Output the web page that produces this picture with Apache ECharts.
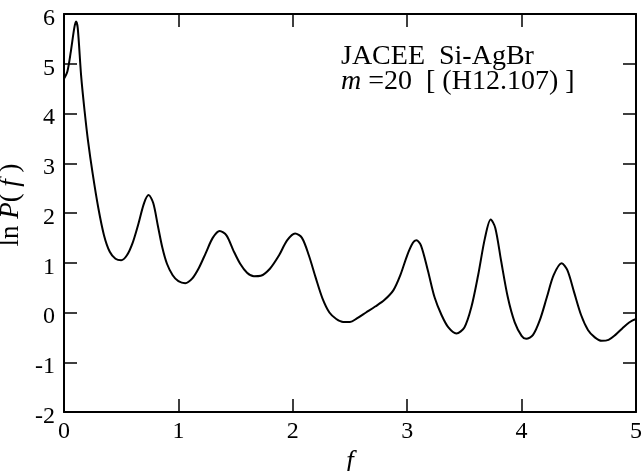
<!DOCTYPE html>
<html>
<head>
<meta charset="utf-8">
<script src="https://cdn.jsdelivr.net/npm/echarts@6/dist/echarts.min.js"></script>
<style>
html,body{margin:0;padding:0;background:#fff;}
#c{width:642px;height:471px;}
</style>
</head>
<body>
<div id="c"></div>
<script>
// f values (x) and ln P(f) values (y)
const fVals = [0.00,0.03,0.06,0.09,0.105,0.12,0.15,0.18,0.21,0.25,0.30,0.35,0.40,0.45,0.50,0.55,0.60,0.65,0.70,0.74,0.78,0.82,0.86,0.90,0.95,1.00,1.06,1.12,1.18,1.24,1.30,1.36,1.42,1.48,1.54,1.60,1.66,1.72,1.80,1.88,1.95,2.02,2.08,2.14,2.20,2.26,2.32,2.38,2.44,2.50,2.56,2.64,2.72,2.80,2.88,2.94,3.00,3.05,3.08,3.12,3.18,3.24,3.30,3.36,3.43,3.50,3.56,3.62,3.68,3.73,3.77,3.82,3.88,3.94,4.00,4.04,4.10,4.16,4.22,4.28,4.35,4.40,4.46,4.52,4.58,4.64,4.70,4.76,4.82,4.88,4.94,5.00];
const lnP = [4.70,4.85,5.25,5.72,5.85,5.72,4.75,4.05,3.45,2.80,2.10,1.55,1.22,1.08,1.05,1.15,1.40,1.78,2.20,2.36,2.20,1.75,1.30,0.98,0.75,0.63,0.59,0.68,0.90,1.20,1.50,1.64,1.55,1.25,0.98,0.80,0.73,0.74,0.88,1.15,1.45,1.59,1.50,1.15,0.70,0.28,0.00,-0.13,-0.19,-0.19,-0.12,0.00,0.12,0.25,0.45,0.75,1.15,1.40,1.45,1.35,0.85,0.30,-0.05,-0.30,-0.42,-0.30,0.10,0.75,1.50,1.87,1.70,1.05,0.30,-0.20,-0.47,-0.53,-0.45,-0.15,0.30,0.75,0.99,0.85,0.40,-0.05,-0.35,-0.50,-0.57,-0.55,-0.45,-0.32,-0.20,-0.13];
const xTicks = [0,1,2,3,4,5];
const yTicks = [-2,-1,0,1,2,3,4,5,6];
const annotLine1 = 'JACEE  Si-AgBr';
const annotLine2 = ['m', ' =20  [ (H12.107) ]'];

const serif = '"Liberation Serif","Times New Roman",serif';
const chart = echarts.init(document.getElementById('c'), null, {renderer:'canvas'});
const pts = fVals.map((f,i)=>[f, lnP[i]]);
const axisLineStyle = {color:'#000', width:2};
const tickStyle = {color:'#000', width:1.5};

chart.setOption({
  animation:false,
  backgroundColor:'#fff',
  grid:{left:64, right:6, top:14, bottom:59, containLabel:false, outerBoundsMode:'none'},
  xAxis:[{
    type:'value', min:xTicks[0], max:xTicks[xTicks.length-1], interval:1, position:'bottom',
    axisLine:{show:true, onZero:false, lineStyle:axisLineStyle},
    axisTick:{show:true, inside:true, length:13, lineStyle:tickStyle},
    axisLabel:{show:true, margin:8, color:'#000', fontFamily:serif, fontSize:24},
    splitLine:{show:false},
    name:'{i|f}', nameLocation:'middle', nameGap:20,
    nameTextStyle:{rich:{i:{fontFamily:serif, fontStyle:'italic', fontSize:27, color:'#000'}}}
  },{
    type:'value', min:xTicks[0], max:xTicks[xTicks.length-1], interval:1, position:'top',
    axisLine:{show:true, onZero:false, lineStyle:axisLineStyle},
    axisTick:{show:true, inside:true, length:13, lineStyle:tickStyle},
    axisLabel:{show:false}, splitLine:{show:false}
  }],
  yAxis:[{
    type:'value', min:yTicks[0], max:yTicks[yTicks.length-1], interval:1, position:'left',
    axisLine:{show:true, onZero:false, lineStyle:axisLineStyle},
    axisTick:{show:true, inside:true, length:13, lineStyle:tickStyle},
    axisLabel:{show:true, margin:9, color:'#000',
      formatter:v=>'{a|' + String(v) + '}',
      rich:{a:{fontFamily:serif, fontSize:24, color:'#000', padding:[9,0,0,0]}}},
    splitLine:{show:false},
    name:'{r|ln }{i|P}{r|(}{i| f }{r|)}', nameLocation:'middle', nameGap:29, nameRotate:90,
    nameTextStyle:{padding:[0,0,0,16], rich:{
      r:{fontFamily:serif, fontSize:27, color:'#000'},
      i:{fontFamily:serif, fontStyle:'italic', fontSize:27, color:'#000'}
    }}
  },{
    type:'value', min:yTicks[0], max:yTicks[yTicks.length-1], interval:1, position:'right',
    axisLine:{show:true, onZero:false, lineStyle:axisLineStyle},
    axisTick:{show:true, inside:true, length:13, lineStyle:tickStyle},
    axisLabel:{show:false}, splitLine:{show:false}
  }],
  graphic:[{
    type:'text', left:341, top:43,
    style:{
      text:annotLine1 + '\n{i|' + annotLine2[0] + '}' + annotLine2[1],
      font:'28px ' + serif, fill:'#000', lineHeight:25,
      rich:{i:{fontStyle:'italic', fontFamily:serif, fontSize:28, fill:'#000', lineHeight:25}}
    }
  }],
  series:[{
    type:'line', xAxisIndex:0, yAxisIndex:0, data:pts, showSymbol:false, symbol:'none',
    smooth:0.3, lineStyle:{color:'#000', width:2}, clip:true
  }]
});
</script>
</body>
</html>
